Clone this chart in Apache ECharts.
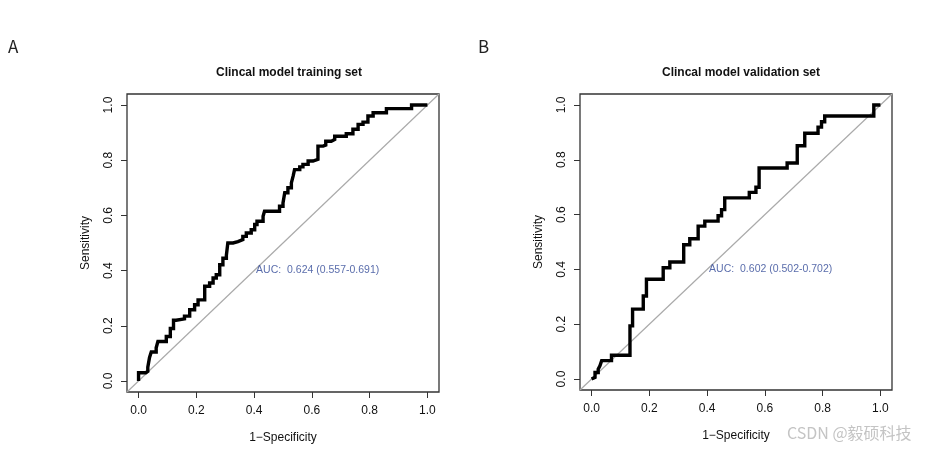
<!DOCTYPE html>
<html><head><meta charset="utf-8">
<script src="https://cdn.jsdelivr.net/npm/echarts@6/dist/echarts.min.js"></script>
<style>html,body{margin:0;padding:0;background:#fff}#c{width:926px;height:453px}</style>
</head><body><div id="c"></div>
<script>
// Training set ROC corner points (1-specificity, sensitivity)
const trainFpr = [0,0,0.025,0.032,0.038,0.044,0.061,0.067,0.096,0.110,0.121,0.130,0.159,0.177,0.194,0.206,0.229,0.246,0.258,0.269,0.281,0.292,0.304,0.309,0.327,0.344,0.361,0.373,0.390,0.402,0.410,0.431,0.436,0.488,0.500,0.506,0.517,0.529,0.535,0.540,0.558,0.569,0.587,0.604,0.621,0.639,0.648,0.667,0.679,0.719,0.742,0.760,0.777,0.794,0.812,0.858,0.945,1];
const trainTpr = [0,0.03,0.035,0.05,0.085,0.105,0.12,0.143,0.161,0.19,0.22,0.225,0.235,0.258,0.276,0.294,0.343,0.355,0.373,0.385,0.421,0.445,0.455,0.5,0.505,0.512,0.524,0.536,0.548,0.567,0.579,0.597,0.615,0.633,0.645,0.682,0.70,0.718,0.742,0.766,0.776,0.785,0.797,0.803,0.851,0.855,0.869,0.875,0.887,0.896,0.912,0.93,0.938,0.96,0.972,0.987,1,1];
// Validation set ROC corner points
const validFpr = [0,0.006,0.012,0.023,0.029,0.035,0.069,0.133,0.142,0.179,0.190,0.248,0.271,0.319,0.340,0.369,0.392,0.438,0.450,0.461,0.546,0.569,0.580,0.677,0.712,0.738,0.784,0.796,0.807,0.977,1];
const validTpr = [0,0.006,0.024,0.036,0.048,0.067,0.087,0.194,0.255,0.303,0.364,0.406,0.427,0.49,0.512,0.558,0.576,0.596,0.618,0.661,0.681,0.70,0.77,0.788,0.851,0.897,0.919,0.939,0.96,1,1];
const tickValues = [0,0.2,0.4,0.6,0.8,1.0];
const titles = ['Clincal model training set','Clincal model validation set'];
const aucTexts = ['AUC:  0.624 (0.557-0.691)','AUC:  0.602 (0.502-0.702)'];
const panelLetters = ['A','B'];
const diagonal = [-0.04, 1.04];

function stairs(xs, ys){
  const pts=[[xs[0],ys[0]]];
  for(let i=1;i<xs.length;i++){
    pts.push([xs[i],ys[i-1]]);
    pts.push([xs[i],ys[i]]);
  }
  return pts;
}
const FONT='Liberation Sans, Arial, sans-serif';
const grids=[{left:127,top:94,width:312,height:298},{left:580,top:94,width:312,height:296}];
function axisX(i){return {type:'value',gridIndex:i,min:-0.04,max:1.04,
  name:'1\u2212Specificity',nameLocation:'middle',nameGap:40,
  nameTextStyle:{color:'#111',fontSize:12,fontFamily:FONT},
  axisLine:{show:false,onZero:false},splitLine:{show:false},
  axisTick:{show:true,length:6,customValues:tickValues,lineStyle:{color:'#333',width:1}},
  axisLabel:{customValues:tickValues,color:'#111',fontSize:12,fontFamily:FONT,margin:13,formatter:v=>v.toFixed(1)}};}
function axisY(i){return {type:'value',gridIndex:i,min:-0.04,max:1.04,
  name:'Sensitivity',nameLocation:'middle',nameGap:35,
  nameTextStyle:{color:'#111',fontSize:12,fontFamily:FONT},
  axisLine:{show:false,onZero:false},splitLine:{show:false},
  axisTick:{show:true,length:6,customValues:tickValues,lineStyle:{color:'#333',width:1}},
  axisLabel:{customValues:tickValues,rotate:90,color:'#111',fontSize:12,fontFamily:FONT,margin:12,formatter:v=>v.toFixed(1)}};}

const curves=[stairs(trainFpr,trainTpr),stairs(validFpr,validTpr)];
const series=[];
for(let i=0;i<2;i++){
  series.push({type:'line',xAxisIndex:i,yAxisIndex:i,data:[[diagonal[0],diagonal[0]],[diagonal[1],diagonal[1]]],
    symbol:'none',lineStyle:{color:'#aaaaaa',width:1.2},silent:true,z:2});
  series.push({type:'line',xAxisIndex:i,yAxisIndex:i,data:curves[i],symbol:'none',
    lineStyle:{color:'#000',width:3.4,join:'miter'},silent:true,z:3});
  series.push({type:'scatter',xAxisIndex:i,yAxisIndex:i,data:[[0.4,0.4]],symbolSize:0,silent:true,
    label:{show:true,position:'right',distance:2,formatter:aucTexts[i],color:'#2f4796',fontSize:10.5,fontFamily:FONT},z:4});
}
const chart=echarts.init(document.getElementById('c'));
chart.setOption({
  animation:false,backgroundColor:'#fff',
  title:[
    {text:titles[0],left:284,top:62,textAlign:'center',textStyle:{fontSize:12,fontWeight:'bold',color:'#111',fontFamily:FONT}},
    {text:titles[1],left:736,top:62,textAlign:'center',textStyle:{fontSize:12,fontWeight:'bold',color:'#111',fontFamily:FONT}}
  ],
  grid:grids.map(g=>Object.assign({show:true,borderColor:'#333',borderWidth:1.3,backgroundColor:'transparent'},g)),
  xAxis:[axisX(0),axisX(1)],
  yAxis:[axisY(0),axisY(1)],
  series:series,
  graphic:[
    {type:'text',left:8,top:38,style:{text:panelLetters[0],fontSize:17,fill:'#222',fontFamily:'Noto Sans CJK SC, sans-serif'}},
    {type:'text',left:478,top:38,style:{text:panelLetters[1],fontSize:17,fill:'#222',fontFamily:'Noto Sans CJK SC, sans-serif'}},
    {type:'text',left:787,top:425,style:{text:'CSDN @毅硕科技',fontSize:16,fill:'#c4c4c4',fontFamily:'Noto Sans CJK SC, sans-serif'}}
  ]
});
</script></body></html>
